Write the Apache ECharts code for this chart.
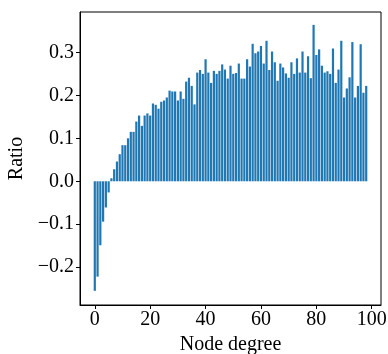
<!DOCTYPE html>
<html>
<head>
<meta charset="utf-8">
<script src="https://cdn.jsdelivr.net/npm/echarts@6/dist/echarts.min.js"></script>
<style>
html,body{margin:0;padding:0;background:#fff;}
#chart{width:388px;height:354px;}
</style>
</head>
<body>
<div id="chart"></div>
<script>
const degrees = [0,1,2,3,4,5,6,7,8,9,10,11,12,13,14,15,16,17,18,19,20,21,22,23,24,25,26,27,28,29,30,31,32,33,34,35,36,37,38,39,40,41,42,43,44,45,46,47,48,49,50,51,52,53,54,55,56,57,58,59,60,61,62,63,64,65,66,67,68,69,70,71,72,73,74,75,76,77,78,79,80,81,82,83,84,85,86,87,88,89,90,91,92,93,94,95,96,97,98];
const ratios = [-0.255,-0.222,-0.149,-0.094,-0.061,-0.026,0.007,0.028,0.046,0.063,
  0.084,0.084,0.100,0.115,0.115,0.139,0.153,0.129,0.153,0.158,
  0.153,0.181,0.178,0.169,0.185,0.188,0.195,0.211,0.209,0.209,
  0.188,0.209,0.192,0.232,0.241,0.222,0.179,0.253,0.259,0.250,
  0.284,0.253,0.229,0.257,0.250,0.257,0.272,0.260,0.239,0.269,
  0.250,0.252,0.274,0.239,0.239,0.284,0.267,0.320,0.298,0.302,
  0.315,0.274,0.327,0.259,0.302,0.277,0.234,0.274,0.265,0.251,
  0.241,0.277,0.250,0.286,0.253,0.302,0.253,0.291,0.240,0.364,
  0.294,0.307,0.269,0.253,0.256,0.250,0.309,0.229,0.260,0.327,
  0.195,0.216,0.242,0.324,0.195,0.222,0.319,0.206,0.222];
const xTicks = [0,20,40,60,80,100];
const yTicks = [-0.2,-0.1,0.0,0.1,0.2,0.3];

const font = 'Liberation Serif';
const chart = echarts.init(document.getElementById('chart'), null, {renderer:'canvas'});
chart.setOption({
  animation:false,
  backgroundColor:'#fff',
  grid:{left:80,right:7,top:12,bottom:49,outerBoundsMode:'none',containLabel:false,
    show:true,borderColor:'#000',borderWidth:1,backgroundColor:'transparent'},
  xAxis:{
    type:'value',min:-5.34,max:103.34,
    axisLine:{show:true,onZero:false,lineStyle:{color:'#000',width:1}},
    axisTick:{show:true,customValues:xTicks,length:4,lineStyle:{color:'#000'}},
    axisLabel:{customValues:xTicks,fontSize:20,fontFamily:font,color:'#000',margin:5},
    splitLine:{show:false},
    name:'Node degree',nameLocation:'middle',nameGap:29,
    nameTextStyle:{fontSize:20,fontFamily:font,color:'#000'}
  },
  yAxis:{
    type:'value',min:-0.288,max:0.394,
    axisLine:{show:true,onZero:false,lineStyle:{color:'#000',width:1}},
    axisTick:{show:true,customValues:yTicks,length:4,lineStyle:{color:'#000'}},
    axisLabel:{customValues:yTicks,fontSize:20,fontFamily:font,color:'#000',margin:6,
      formatter:v=>v.toFixed(1).replace('-','\u2212')},
    splitLine:{show:false},
    name:'Ratio',nameLocation:'middle',nameGap:52,
    nameTextStyle:{fontSize:20,fontFamily:font,color:'#000'}
  },
  series:[{
    type:'bar',
    data:degrees.map((d,i)=>[d,ratios[i]]),
    barWidth:2.2,
    itemStyle:{color:'#1f77b4'}
  }]
});
</script>
</body>
</html>
